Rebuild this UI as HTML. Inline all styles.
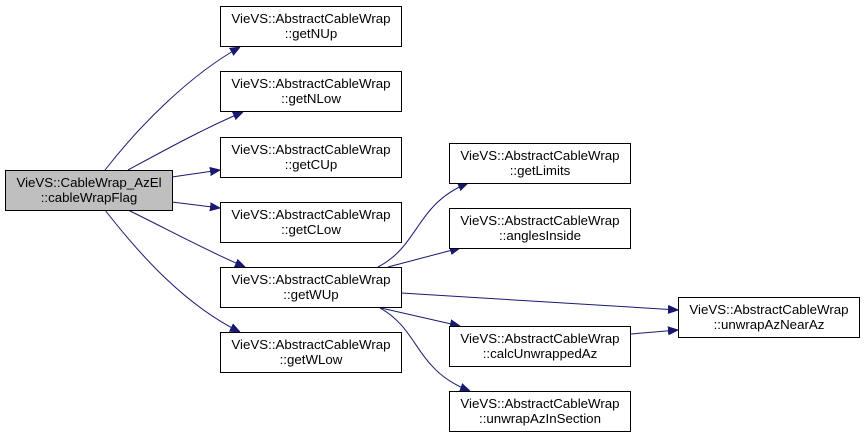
<!DOCTYPE html>
<html><head><style>body{margin:0;background:#fff}svg{display:block}text{font-family:"Liberation Sans",sans-serif;font-size:13.3px;fill:#000}</style></head><body>
<svg width="865" height="437" viewBox="0 0 865 437" xmlns="http://www.w3.org/2000/svg">
<defs><marker id="a" viewBox="0 0 10 10" refX="10" refY="5" markerWidth="10" markerHeight="10" markerUnits="userSpaceOnUse" orient="auto"><path d="M0,1 L10,5 L0,9 Z" fill="#191970" stroke="#191970"/></marker></defs>
<g fill="none" stroke="#191970" stroke-width="1" marker-end="url(#a)">
<path d="M105,170 C140,125 190,75 240,47"/>
<path d="M128,170 C165,150 205,128 243,112"/>
<path d="M172,177 L220,170"/>
<path d="M172,202 L220,208"/>
<path d="M128,210 C165,228 205,250 245,267"/>
<path d="M105,210 C140,255 185,305 240,332"/>
<path d="M378,267 C420,245 415,205 468,183"/>
<path d="M388,267 L460,248"/>
<path d="M401,293 L678,310"/>
<path d="M381,308 L460,326"/>
<path d="M380,308 C420,330 415,370 470,391"/>
<path d="M631,334 L678,330"/>
</g>
<g stroke="#000" stroke-width="1" fill="#fff">
<rect x="5.5" y="170.5" width="167" height="40" fill="#bfbfbf"/>
<rect x="220.5" y="6.5" width="181" height="40"/>
<rect x="220.5" y="71.5" width="181" height="40"/>
<rect x="220.5" y="137.5" width="181" height="40"/>
<rect x="220.5" y="202.5" width="181" height="40"/>
<rect x="220.5" y="267.5" width="181" height="40"/>
<rect x="220.5" y="332.5" width="181" height="40"/>
<rect x="449.5" y="143.5" width="181" height="40"/>
<rect x="449.5" y="208.5" width="181" height="40"/>
<rect x="449.5" y="326.5" width="181" height="40"/>
<rect x="449.5" y="391.5" width="181" height="40"/>
<rect x="678.5" y="297.5" width="181" height="40"/>
</g>
<g text-anchor="middle">
<text x="89" y="187">VieVS::CableWrap_AzEl</text><text x="89" y="202">::cableWrapFlag</text>
<text x="311" y="23">VieVS::AbstractCableWrap</text><text x="311" y="38">::getNUp</text>
<text x="311" y="88">VieVS::AbstractCableWrap</text><text x="311" y="103">::getNLow</text>
<text x="311" y="154">VieVS::AbstractCableWrap</text><text x="311" y="169">::getCUp</text>
<text x="311" y="219">VieVS::AbstractCableWrap</text><text x="311" y="234">::getCLow</text>
<text x="311" y="284">VieVS::AbstractCableWrap</text><text x="311" y="299">::getWUp</text>
<text x="311" y="349">VieVS::AbstractCableWrap</text><text x="311" y="364">::getWLow</text>
<text x="540" y="160">VieVS::AbstractCableWrap</text><text x="540" y="175">::getLimits</text>
<text x="540" y="225">VieVS::AbstractCableWrap</text><text x="540" y="240">::anglesInside</text>
<text x="540" y="343">VieVS::AbstractCableWrap</text><text x="540" y="358">::calcUnwrappedAz</text>
<text x="540" y="408">VieVS::AbstractCableWrap</text><text x="540" y="423">::unwrapAzInSection</text>
<text x="769" y="314">VieVS::AbstractCableWrap</text><text x="769" y="329">::unwrapAzNearAz</text>
</g>
</svg>
</body></html>
